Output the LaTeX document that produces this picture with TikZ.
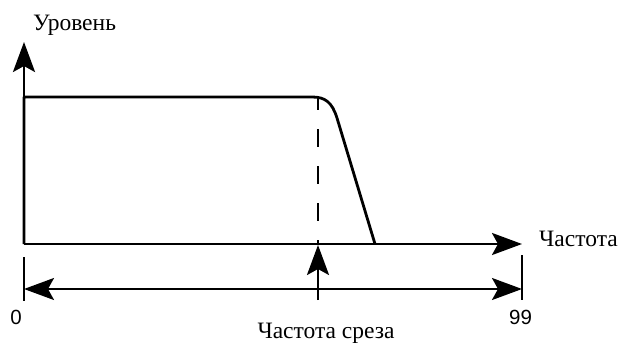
\documentclass[tikz,border=0pt]{standalone}
\usepackage{fontspec}
\setmainfont{Liberation Serif}
\newfontfamily\digitfont{Liberation Sans}
\usetikzlibrary{arrows.meta}
\begin{document}
\begin{tikzpicture}[x=1pt,y=-1pt,
  bigtip/.tip={Stealth[length=30pt,width=22pt,inset=6pt]},
  axis/.style={line width=2.8pt, -bigtip},
  curve/.style={line width=2.8pt, line join=round},
  cutoff/.style={line width=2.6pt, dash pattern=on 18pt off 19pt, dash phase=5pt},
  tickline/.style={line width=2.2pt},
  dim/.style={line width=2pt, bigtip-bigtip},
  lbl/.style={font=\fontsize{23.5}{28}\selectfont, inner sep=0pt},
  num/.style={font=\digitfont\fontsize{20.5}{24}\selectfont, inner sep=0pt}]
\useasboundingbox (0,0) rectangle (618,345);
% coordinates
\coordinate (O) at (24,244);
\coordinate (ytop) at (24,42);
\coordinate (xend) at (522,244);
\coordinate (lvl0) at (24,97);
\coordinate (knee) at (312,97);
\coordinate (slope) at (337,118);
\coordinate (foot) at (375,244);
\coordinate (ctop) at (318,97);
\coordinate (cbot) at (318,244);
\coordinate (lt1) at (24,257);
\coordinate (lt2) at (24,301);
\coordinate (rt1) at (522,255);
\coordinate (rt2) at (522,300);
\coordinate (dl) at (24,289);
\coordinate (dr) at (522,289);
\coordinate (ub) at (318,300);
\coordinate (ut) at (318,245);
% response curve
\draw[curve] (O) -- (lvl0) -- (knee) .. controls (325,97) and (332,102) .. (slope) -- (foot);
% axes
\draw[axis] (O) -- (ytop);
\draw[axis] (O) -- (xend);
% cutoff dashed line
\draw[cutoff] (ctop) -- (cbot);
% dimension
\draw[tickline] (lt1) -- (lt2);
\draw[tickline] (rt1) -- (rt2);
\draw[dim] (dl) -- (dr);
\draw[axis, line width=2.4pt] (ub) -- (ut);
% labels
\node[lbl, anchor=base west] (ylab) at (33,31) {Уровень};
\node[lbl, anchor=base west] (xlab) at (539,246) {Частота};
\node[lbl, anchor=base] (clab) at (326,338.5) {Частота среза};
\node[num, anchor=base] (zero) at (16,324) {0};
\node[num, anchor=base] (ninetynine) at (520.5,324) {99};
\end{tikzpicture}
\end{document}
